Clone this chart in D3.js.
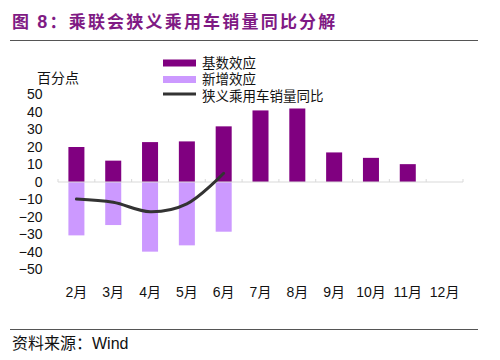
<!DOCTYPE html>
<html><head><meta charset="utf-8">
<script src="https://cdn.jsdelivr.net/npm/d3@7"></script>
<style>
html,body{margin:0;padding:0;background:#fff;}
svg{display:block;}
</style></head>
<body>
<svg id="c" width="500" height="360"></svg>
<script>
const months = ["2月","3月","4月","5月","6月","7月","8月","9月","10月","11月","12月"];
const baseEffect = [20, 12.2, 22.8, 23.2, 31.8, 40.9, 42, 16.9, 13.8, 10.2, null];
const newEffect = [-30.5, -24.6, -39.8, -36.2, -28.4, null, null, null, null, null, null];
const yoyLine = [-9.7, -11.6, -17, -12.5, 5, null, null, null, null, null, null];
const yTicks = [50, 40, 30, 20, 10, 0, -10, -20, -30, -40, -50];
const seriesNames = ["基数效应", "新增效应", "狭义乘用车销量同比"];

const svg = d3.select("#c");
const cjk = "'Noto Sans CJK SC','Noto Sans',sans-serif";
const latin = "'Liberation Sans',Arial,'Noto Sans CJK SC',sans-serif";
const dark = "#800080", light = "#cc99ff", lineC = "#333333", titleC = "#7f1a84";

// title
const t = svg.append("text").attr("x", 12).attr("y", 28)
  .attr("font-family", cjk).attr("font-size", 17).attr("font-weight", "bold")
  .attr("fill", titleC).attr("letter-spacing", 2.2);
t.append("tspan").text("图 ");
t.append("tspan").attr("font-family", latin).attr("font-size", 18).text("8");
t.append("tspan").text("：乘联会狭义乘用车销量同比分解");

svg.append("line").attr("x1", 10).attr("x2", 478).attr("y1", 40.5).attr("y2", 40.5)
  .attr("stroke", "#555").attr("stroke-width", 1);
svg.append("line").attr("x1", 10).attr("x2", 478).attr("y1", 329.5).attr("y2", 329.5)
  .attr("stroke", "#555").attr("stroke-width", 1);

const src = svg.append("text").attr("x", 12).attr("y", 349).attr("font-size", 16).attr("fill", "#111");
src.append("tspan").attr("font-family", cjk).text("资料来源：");
src.append("tspan").attr("font-family", latin).text("Wind");

// scales
const x = d3.scaleBand().domain(months).range([58, 463]).paddingInner(0.565).paddingOuter(0.2825);
const y = d3.scaleLinear().domain([-50, 50]).range([269.5, 94.5]);
const step = x.step();

// y axis labels
const yAxis = d3.axisLeft(y).tickValues(yTicks).tickSize(0).tickPadding(0).tickFormat(d3.format("d"));
const gy = svg.append("g").attr("transform", "translate(42.5,0)").call(yAxis);
gy.select(".domain").remove();
gy.selectAll("text").attr("font-family", latin).attr("font-size", 14).attr("fill", "#111");

svg.append("text").attr("x", 37).attr("y", 83).attr("font-family", cjk).attr("font-size", 14)
  .attr("fill", "#111").text("百分点");

// bars
svg.append("g").selectAll("rect").data(months.map((m, i) => ({m, v: baseEffect[i]})).filter(d => d.v != null))
  .join("rect").attr("x", d => x(d.m)).attr("width", x.bandwidth())
  .attr("y", d => y(Math.max(0, d.v))).attr("height", d => Math.abs(y(d.v) - y(0)))
  .attr("fill", dark);
svg.append("g").selectAll("rect").data(months.map((m, i) => ({m, v: newEffect[i]})).filter(d => d.v != null))
  .join("rect").attr("x", d => x(d.m)).attr("width", x.bandwidth())
  .attr("y", d => y(Math.max(0, d.v))).attr("height", d => Math.abs(y(d.v) - y(0)))
  .attr("fill", light);

// x axis (zero line)
const xAxis = d3.axisBottom(x).tickSize(0).tickPadding(0);
const gx = svg.append("g").attr("transform", `translate(0,${y(0)})`).call(xAxis);
gx.select(".domain").attr("stroke", "#d9d9d9").attr("d", `M58,0H463`);
gx.selectAll("text").attr("font-family", latin).attr("font-size", 14).attr("fill", "#111")
  .attr("dy", 0).attr("y", 115);
// boundary tick marks
svg.append("g").selectAll("line").data(d3.range(months.length + 1)).join("line")
  .attr("x1", i => 58 + i * step).attr("x2", i => 58 + i * step)
  .attr("y1", y(0) - 3).attr("y2", y(0)).attr("stroke", "#d9d9d9");

// line
const lineData = months.map((m, i) => ({m, v: yoyLine[i]})).filter(d => d.v != null);
svg.append("path").datum(lineData)
  .attr("d", d3.line().x(d => x(d.m) + x.bandwidth() / 2).y(d => y(d.v)).curve(d3.curveCatmullRom.alpha(0.5)))
  .attr("fill", "none").attr("stroke", lineC).attr("stroke-width", 3).attr("stroke-linecap", "round");

// legend
const lg = svg.append("g");
const ly = [63, 79.5, 96];
lg.append("rect").attr("x", 163).attr("y", ly[0] - 3.5).attr("width", 33).attr("height", 7).attr("fill", dark);
lg.append("rect").attr("x", 163).attr("y", ly[1] - 3.5).attr("width", 33).attr("height", 7).attr("fill", light);
lg.append("line").attr("x1", 163).attr("x2", 196).attr("y1", ly[2] - 2).attr("y2", ly[2] - 2)
  .attr("stroke", lineC).attr("stroke-width", 3);
lg.selectAll("text").data(seriesNames).join("text")
  .attr("x", 202).attr("y", (d, i) => ly[i]).attr("dy", "0.36em")
  .attr("font-family", latin).attr("font-size", 13.5).attr("fill", "#111").text(d => d);
</script>
</body></html>
